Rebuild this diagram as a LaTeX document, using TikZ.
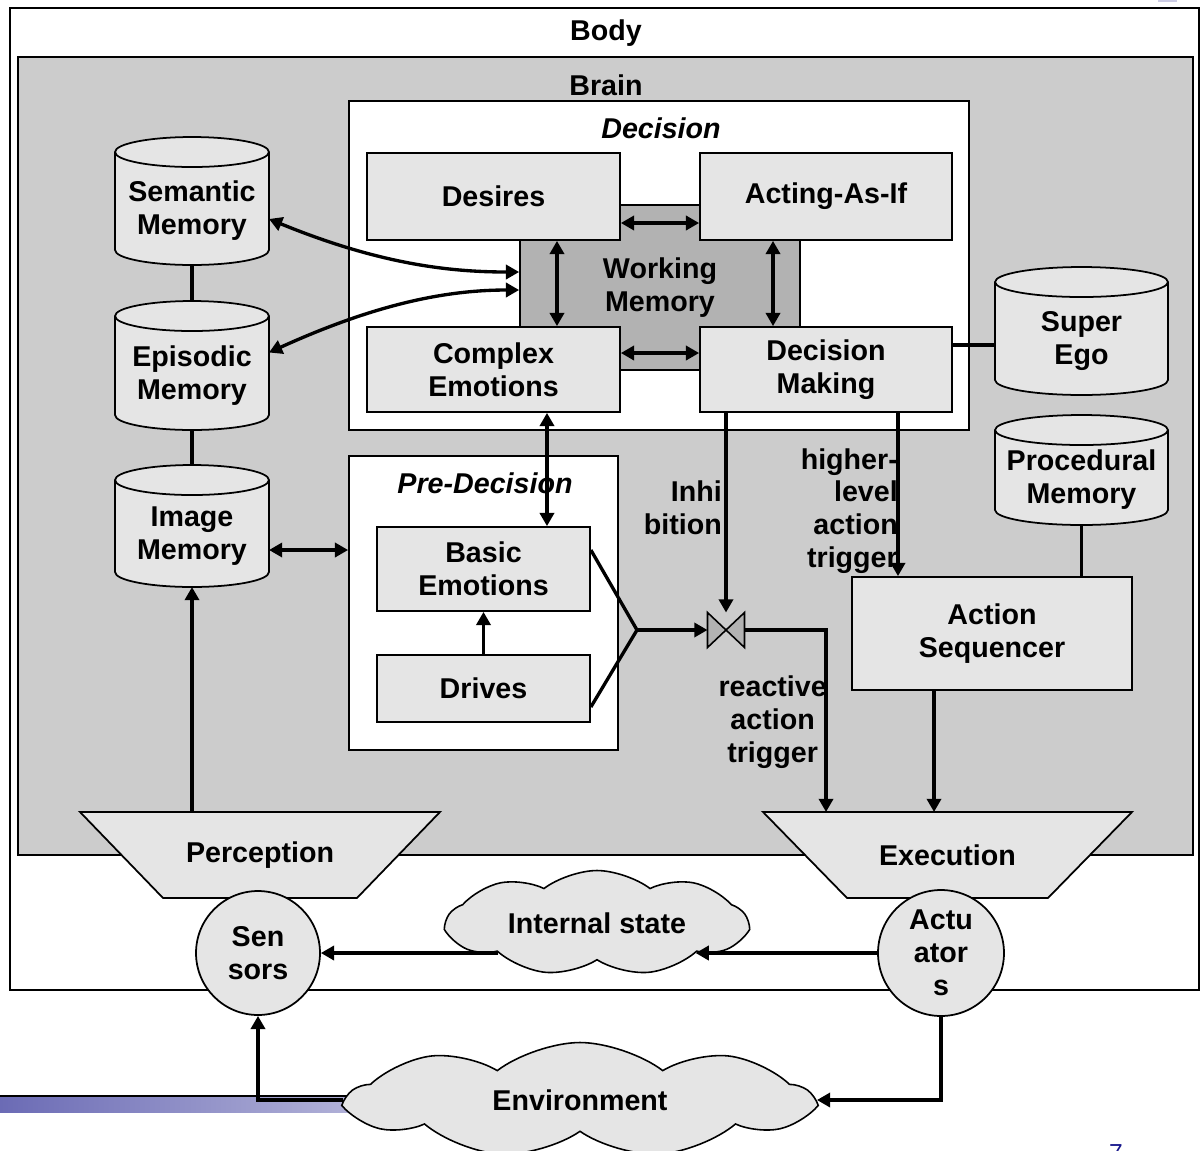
\documentclass[tikz,border=0pt]{standalone}
\usepackage{fontspec}
\setmainfont{Liberation Sans}
\usetikzlibrary{arrows.meta,shapes.symbols}

\definecolor{braingray}{gray}{0.8}
\definecolor{boxgray}{gray}{0.9}
\definecolor{wmgray}{gray}{0.7}
\definecolor{barleft}{RGB}{107,107,181}
\definecolor{barright}{RGB}{182,182,218}
\definecolor{pagenum}{RGB}{24,24,140}

\tikzset{
  every node/.style={font=\bfseries\fontsize{16.3}{18.7}\selectfont, align=center},
  frame/.style={draw, line width=1pt, inner sep=0pt},
  box/.style={draw, line width=1pt, fill=boxgray, inner sep=0pt},
  slot/.style={inner sep=0pt, outer sep=0pt},
  outline/.style={line width=1pt},
  organ/.style={circle, draw, line width=1pt, fill=boxgray, inner sep=0pt},
  puff/.style={cloud, cloud puffs=9, cloud puff arc=75, cloud ignores aspect,
    draw, line width=0.9pt, fill=boxgray, inner sep=0pt},
  arr/.style={line width=1.9pt, -{Triangle[length=7.5pt,width=8pt]}},
  dbl/.style={line width=1.9pt, {Triangle[length=7.5pt,width=8pt]}-{Triangle[length=7.5pt,width=8pt]}},
  link/.style={line width=1.9pt},
}

% memory drum: name, centre, width, height, text
\newcommand\drum[5]{%
  \node[slot, minimum width=#3, minimum height=#4] (#1) at (#2) {};
  \draw[outline, fill=boxgray] ([yshift=-0.3cm]#1.north west) -- ([yshift=0.3cm]#1.south west)
    arc[start angle=180, end angle=360, x radius=#3/2, y radius=0.3cm]
    -- ([yshift=-0.3cm]#1.north east)
    arc[start angle=0, end angle=180, x radius=#3/2, y radius=0.3cm] -- cycle;
  \draw[outline] ([yshift=-0.3cm]#1.north west) arc[start angle=180, end angle=360, x radius=#3/2, y radius=0.3cm];
  \node (#1text) at ([yshift=-0.2cm]#1.center) {#5};
}
% funnel: name, centre, top width, inset, text
\newcommand\funnel[5]{%
  \node[slot, minimum width=#3, minimum height=1.72cm] (#1) at (#2) {};
  \draw[outline, fill=boxgray] (#1.north west) -- (#1.north east) -- ([xshift=-#4]#1.south east)
    -- ([xshift=#4]#1.south west) -- cycle;
  \node (#1text) at (#1.center) {#5};
}

\begin{document}
\begin{tikzpicture}[x=0.02cm,y=-0.02cm]
\clip (0,0) rectangle (1200,1150);

% slide template bits
\fill[barright!70] (1158,0) rectangle (1177,2);
\shade[left color=barleft, right color=barright] (0,1097) rectangle (380,1112);
\draw[line width=0.6pt] (0,1096) -- (380,1096);
\node[anchor=north, inner sep=0pt, text=pagenum, font=\fontsize{14}{16}\selectfont] (page) at (1116,1144) {7};

% body and brain
\node[frame, line width=1.3pt, minimum width=23.78cm, minimum height=19.64cm] (body) at (604.5,499) {};
\node (bodytitle) at (606,33) {Body};
\node[frame, fill=braingray, minimum width=23.5cm, minimum height=15.96cm] (brain) at (605.5,456) {};
\node (braintitle) at (606,85) {Brain};

% decision
\node[frame, fill=white, minimum width=12.4cm, minimum height=6.58cm] (decision) at (659,265.5) {};
\node[font=\bfseries\itshape\fontsize{16.3}{18.7}\selectfont] (decisiontitle) at (661,128) {Decision};
\node[frame, fill=wmgray, minimum width=5.6cm, minimum height=3.3cm] (wm) at (660,287.5) {Working\\Memory};
\node[box, minimum width=5.06cm, minimum height=1.74cm] (desires) at (493.5,196.5) {Desires};
\node[box, minimum width=5.04cm, minimum height=1.74cm] (acting) at (826,196.5) {Acting-As-If};
\node[box, minimum width=5.06cm, minimum height=1.70cm] (complex) at (493.5,369.5) {Complex\\Emotions};
\node[box, minimum width=5.04cm, minimum height=1.70cm] (decmaking) at (826,369.5) {Decision\\Making};
\draw[dbl] ([yshift=-0.53cm]desires.east) -- ([yshift=-0.53cm]acting.west);
\draw[dbl] ([yshift=0.33cm]complex.east) -- ([yshift=0.33cm]decmaking.west);
\draw[dbl] ([xshift=1.27cm]desires.south) -- ([xshift=1.27cm]desires.south |- complex.north);
\draw[dbl] ([xshift=-1.06cm]acting.south) -- ([xshift=-1.06cm]acting.south |- decmaking.north);

% pre-decision
\node[frame, fill=white, minimum width=5.38cm, minimum height=5.88cm] (predecision) at (483.5,603) {};
\node[font=\bfseries\itshape\fontsize{16.3}{18.7}\selectfont] (predecisiontitle) at (485,483) {Pre-Decision};
\node[box, minimum width=4.26cm, minimum height=1.68cm] (basic) at (483.5,569) {Basic\\Emotions};
\node[box, minimum width=4.26cm, minimum height=1.34cm] (drives) at (483.5,688.5) {Drives};
\draw[arr] (drives.north) -- (basic.south);
\draw[dbl] ([xshift=1.07cm]complex.south) -- ([xshift=1.07cm]complex.south |- basic.north);

% memories
\drum{semantic}{192,201}{3.08cm}{2.56cm}{Semantic\\Memory}
\drum{episodic}{192,365.5}{3.08cm}{2.58cm}{Episodic\\Memory}
\drum{image}{192,526}{3.08cm}{2.44cm}{Image\\Memory}
\drum{superego}{1081.5,331}{3.46cm}{2.56cm}{Super\\Ego}
\drum{procedural}{1081.5,470}{3.46cm}{2.2cm}{Procedural\\Memory}
\draw[link] (semantic.south) -- (episodic.north);
\draw[link] (episodic.south) -- (image.north);
\draw[dbl] ([yshift=-0.36cm]semantic.east) .. controls +(110,45) and +(-70,0) .. ([yshift=0.31cm]wm.west);
\draw[dbl] ([yshift=0.26cm]episodic.east) .. controls +(110,-50) and +(-70,0) .. ([yshift=-0.05cm]wm.west);
\draw[dbl] ([yshift=-0.48cm]image.east) -- ([yshift=-0.48cm]image.east -| predecision.west);
\draw[link] ([yshift=0.49cm]decmaking.east) -- ([yshift=0.49cm]decmaking.east -| superego.west);

% action side
\node[box, minimum width=5.6cm, minimum height=2.26cm] (actseq) at (992,633.5) {Action\\Sequencer};
\draw[link] (procedural.south) -- (procedural.south |- actseq.north);
\draw[arr] ([xshift=1.44cm]decmaking.south) -- ([xshift=1.44cm]decmaking.south |- actseq.north);

% reactive path
\coordinate (merge) at (637,630);
\coordinate (valve) at (726,630);
\draw[link] ([yshift=0.38cm]basic.east) -- (merge) -- ([yshift=-0.37cm]drives.east);
\draw[line width=0.9pt, fill=wmgray] (valve) -- ++(-18.5,-17.5) -- ++(0,35) -- cycle;
\draw[line width=0.9pt, fill=wmgray] (valve) -- ++(18.5,-17.5) -- ++(0,35) -- cycle;
\draw[arr] (merge) -- ([xshift=-0.37cm]valve);
\draw[arr] (decmaking.south -| valve) -- ([yshift=0.35cm]valve);

% perception and execution
\funnel{perception}{260,855}{7.2cm}{1.66cm}{Perception}
\funnel{execution}{947.5,855}{7.38cm}{1.68cm}{Execution}
\draw[arr] (image.south |- perception.north) -- (image.south);
\draw[arr] ([xshift=0.37cm]valve) -| ([xshift=-2.43cm]execution.north);
\draw[arr] ([xshift=-1.16cm]actseq.south) -- ([xshift=-1.16cm]actseq.south |- execution.north);

% labels
\node[anchor=east, align=right] (inhibitlbl) at (728,508) {Inhi\\bition};
\node[anchor=east, align=right] (higherlbl) at (904,511) {higher-\\level\\action\\trigger};
\node[anchor=east] (reactivelbl) at (833,722) {reactive\\action\\trigger};

% sensors, actuators, world
\node[organ, minimum size=2.48cm] (sensors) at (258,953) {Sen\\sors};
\node[organ, minimum size=2.52cm] (actuators) at (941,953) {Actu\\ator\\s};
\node[puff, minimum width=6.0cm, minimum height=2.1cm] (internal) at (597,923) {Internal state};
\node[puff, minimum width=9.24cm, minimum height=2.3cm] (environment) at (580,1100) {Environment};
\draw[arr] (actuators.west) -- (actuators.west -| internal.-17);
\draw[arr] (sensors.east -| internal.197) -- (sensors.east);
\draw[arr] (actuators.south) |- (environment.east);
\draw[arr] (environment.west) -| (sensors.south);
\end{tikzpicture}
\end{document}
